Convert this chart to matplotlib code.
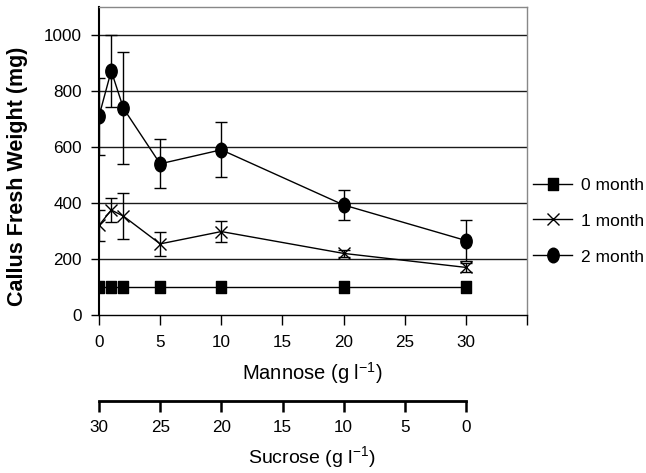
import matplotlib
matplotlib.use('Agg')
import matplotlib.pyplot as plt
from matplotlib.path import Path
from matplotlib.transforms import Affine2D

plt.rcParams['font.family'] = ['Liberation Sans', 'DejaVu Sans']
plt.rcParams['mathtext.fontset'] = 'custom'
plt.rcParams['mathtext.rm'] = 'Liberation Sans'
plt.rcParams['mathtext.it'] = 'Liberation Sans'
plt.rcParams['mathtext.bf'] = 'Liberation Sans:bold'

# ---- data ----
mannose = [0, 1, 2, 5, 10, 20, 30]
month0 = [100, 100, 100, 100, 100, 100, 100]
month1 = [320, 375, 353, 254, 298, 220, 170]
month1_err = [55, 43, 82, 43, 36, 12, 15]
month2 = [710, 872, 738, 540, 590, 393, 266]
month2_err = [138, 128, 200, 88, 98, 55, 72]
labels = ['0 month', '1 month', '2 month']
yticks = [0, 200, 400, 600, 800, 1000]
xticks = [0, 5, 10, 15, 20, 25, 30, 35]
xticklabels = ['0', '5', '10', '15', '20', '25', '30', '']
sucrose_ticks = [30, 25, 20, 15, 10, 5, 0]

W, H = 646, 473
fig = plt.figure(figsize=(W / 100, H / 100), dpi=100)
ax = fig.add_axes([99 / W, 1 - 315 / H, (527 - 99) / W, (315 - 7) / H])

ellipse = Path.unit_circle().transformed(Affine2D().scale(0.78, 1.0))
rect = Path.unit_rectangle().transformed(Affine2D().translate(-0.5, -0.5).scale(0.85, 1.0))

# gridlines
for v in yticks[1:]:
    ax.axhline(v, color='#1a1a1a', lw=1.0, zorder=0)

# error bars
ax.errorbar(mannose, month1, yerr=month1_err, fmt='none', ecolor='black',
            capsize=4, elinewidth=1, capthick=1, zorder=2)
ax.errorbar(mannose, month2, yerr=month2_err, fmt='none', ecolor='black',
            capsize=4, elinewidth=1, capthick=1, zorder=2)

l0, = ax.plot(mannose, month0, color='black', lw=1, marker=rect, markersize=9,
              markerfacecolor='black', markeredgecolor='black', label=labels[0], zorder=3)
l1, = ax.plot(mannose, month1, color='black', lw=1, marker='x', markersize=8,
              markeredgewidth=1, label=labels[1], zorder=3)
l2, = ax.plot(mannose, month2, color='black', lw=1, marker=ellipse, markersize=10.5,
              markerfacecolor='black', markeredgecolor='black', label=labels[2], zorder=3)

ax.set_xlim(0, 35)
ax.set_ylim(0, 1100)
ax.set_xticks(xticks)
ax.set_xticklabels(xticklabels)
ax.set_yticks(yticks)
ax.tick_params(axis='both', direction='out', width=1, labelsize=12.3, color='black')
ax.tick_params(axis='x', length=7, pad=7.5)
ax.tick_params(axis='y', length=6, pad=6.5)
ax.spines['left'].set_color('black')
ax.spines['left'].set_linewidth(1.5)
ax.spines['bottom'].set_color('black')
ax.spines['bottom'].set_linewidth(1)
for s in ['top', 'right']:
    ax.spines[s].set_color('#888888')
    ax.spines[s].set_linewidth(1)

fig.text(18 / W, 1 - 176 / H, 'Callus Fresh Weight (mg)', rotation=90,
         ha='center', va='center', fontsize=15.5, fontweight='bold')
fig.text(312 / W, 1 - 373 / H, 'Mannose (g l$^{\\mathrm{-1}}$)',
         ha='center', va='center', fontsize=14.5)
fig.text(312 / W, 1 - 457 / H, 'Sucrose (g l$^{\\mathrm{-1}}$)',
         ha='center', va='center', fontsize=14)

ax.legend(handles=[l0, l1, l2], loc='center left', bbox_to_anchor=(533 / W, 1 - 221 / H),
          bbox_transform=fig.transFigure, frameon=False, fontsize=12.5,
          handlelength=2.25, labelspacing=1.2, handletextpad=0.5,
          borderpad=0, borderaxespad=0)

# secondary sucrose axis
ax2 = fig.add_axes([99 / W, 1 - 401 / H, (466 - 99) / W, 0.001])
ax2.set_xlim(30, 0)
ax2.set_xticks(sucrose_ticks)
ax2.set_yticks([])
ax2.patch.set_alpha(0)
for s in ['top', 'left', 'right']:
    ax2.spines[s].set_visible(False)
ax2.spines['bottom'].set_linewidth(2)
ax2.tick_params(axis='x', direction='out', length=8, width=1.8, labelsize=12.3, pad=5.5)

fig.savefig('out.png', dpi=100)
